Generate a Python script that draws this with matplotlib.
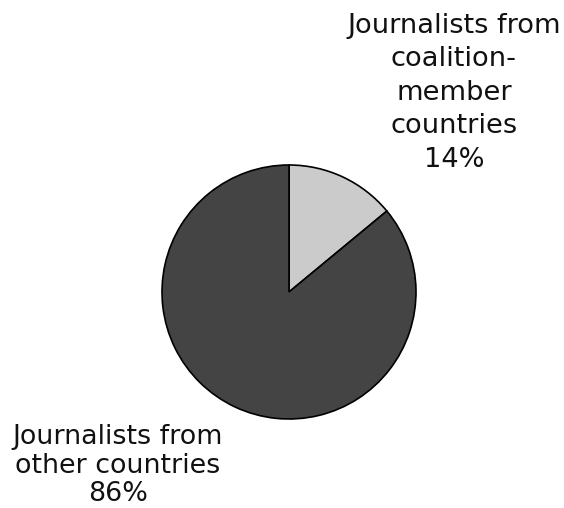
import matplotlib
matplotlib.use("Agg")
import matplotlib.pyplot as plt

labels = ["Journalists from\ncoalition-\nmember\ncountries", "Journalists from\nother countries"]
shares = [14, 86]
colors = ["#cbcbcb", "#444444"]

W, H = 564, 508
fig = plt.figure(figsize=(W / 100, H / 100), dpi=100)

# pie centred at (289, 292) px, radius 127 px
cx, cy, r = 289, 292, 127
ax = fig.add_axes([(cx - r) / W, (H - cy - r) / H, 2 * r / W, 2 * r / H])
ax.pie(shares, colors=colors, startangle=90, counterclock=False, radius=1,
       wedgeprops=dict(edgecolor="black", linewidth=1.2))
ax.set_xlim(-1, 1)
ax.set_ylim(-1, 1)
ax.set_aspect("equal")
ax.axis("off")

texts = [f"{l}\n{s}%" for l, s in zip(labels, shares)]
fig.text(454 / W, 1 - 13 / H, texts[0], ha="center", va="top", multialignment="center",
         fontsize=19.6, linespacing=1.37, color="#111111")
fig.text(118 / W, 1 / H, texts[1], ha="center", va="bottom", multialignment="center",
         fontsize=19.4, linespacing=1.12, color="#111111")

fig.savefig("out.png", dpi=100)
